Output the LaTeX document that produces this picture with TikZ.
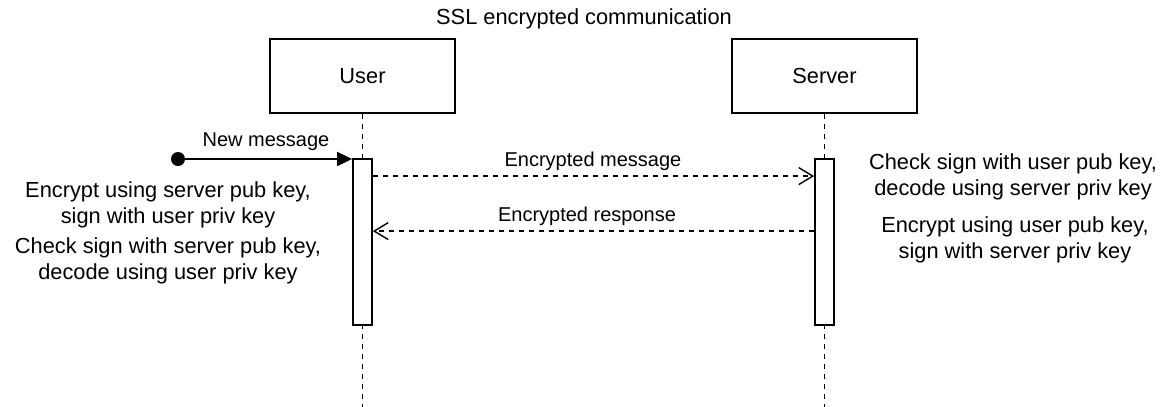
\documentclass[tikz,border=0pt]{standalone}
\usepackage{fontspec}
\setmainfont{Liberation Sans}
\usetikzlibrary{arrows.meta,calc}
\begin{document}
\begin{tikzpicture}[x=1pt,y=-1pt,
  txt/.style={inner sep=0pt,align=center,font=\fontsize{21.8}{26.5}\selectfont},
  lbl/.style={inner sep=0pt,font=\fontsize{20}{24}\selectfont},
  actor/.style={draw,line width=1.8pt,minimum width=185pt,minimum height=74pt,inner sep=0pt,font=\fontsize{21.8}{26.5}\selectfont},
  actbar/.style={draw,line width=1.8pt,fill=white,minimum width=19pt,minimum height=166pt,inner sep=0pt},
  lifeline/.style={line width=1.5pt,dash pattern=on 5pt off 5pt},
  msgline/.style={line width=1.4pt,dash pattern=on 5pt off 5pt},
]
\useasboundingbox (0,0) rectangle (1165,407);
\node[txt] (title) at (584,19) {SSL encrypted communication};
\node[actor] (user) at (362.5,76) {User};
\node[actor] (server) at (824.5,76) {Server};
\coordinate (uend) at (362.5,407);
\coordinate (send) at (824.5,407);
\draw[lifeline] (user.south) -- (uend);
\draw[lifeline] (server.south) -- (send);
\node[actbar] (ua) at (362.5,242) {};
\node[actbar] (sa) at (824.5,242) {};
% new message
\fill (178,159) circle (7pt);
\coordinate (start) at (178,159);
\draw[line width=1.8pt,-{Triangle[length=15pt,width=14pt]}] (start) -- (start -| ua.west);
\node[lbl] (nm) at (266,142) {New message};
% encrypted message
\coordinate (m1) at ($(ua.north east)+(0,18)$);
\draw[msgline,-{Straight Barb[length=14pt,width=17pt,line width=1.4pt]}] (m1) -- (m1 -| sa.west);
\node[lbl] (em) at (593,161) {Encrypted message};
% encrypted response
\coordinate (r1) at ($(sa.north west)+(0,73)$);
\draw[msgline,-{Straight Barb[length=14pt,width=17pt,line width=1.4pt]}] (r1) -- (r1 -| ua.east);
\node[lbl] (er) at (587,216) {Encrypted response};
% notes
\node[txt] (n1) at (168,205) {Encrypt using server pub key,\\sign with user priv key};
\node[txt] (n2) at (168,261) {Check sign with server pub key,\\decode using user priv key};
\node[txt] (n3) at (1013,177) {Check sign with user pub key,\\decode using server priv key};
\node[txt] (n4) at (1015,240) {Encrypt using user pub key,\\sign with server priv key};
\end{tikzpicture}
\end{document}
